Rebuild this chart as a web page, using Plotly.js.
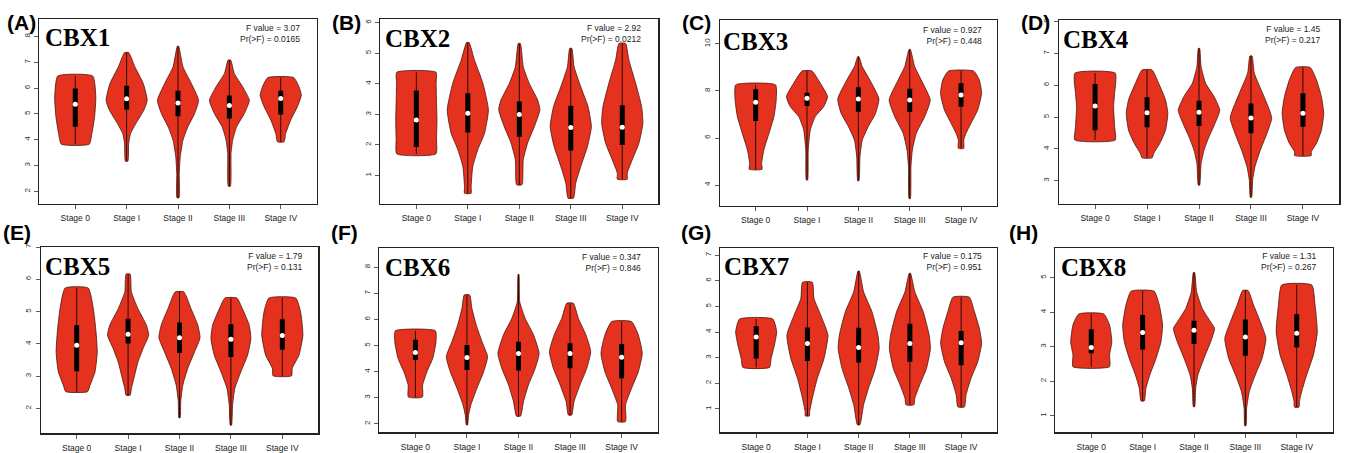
<!DOCTYPE html>
<html><head><meta charset="utf-8">
<script src="https://cdn.plot.ly/plotly-3.0.1.min.js"></script>
<style>html,body{margin:0;padding:0;background:#fff}#chart{width:1346px;height:453px}</style>
</head><body><div id="chart"></div>
<script>
const stages = ['Stage 0','Stage I','Stage II','Stage III','Stage IV'];
const genes = ['CBX1','CBX2','CBX3','CBX4','CBX5','CBX6','CBX7','CBX8'];
const panelLabels = ['(A)','(B)','(C)','(D)','(E)','(F)','(G)','(H)'];
const fValues = ['3.07','2.92','0.927','1.45','1.79','0.347','0.175','1.31'];
const pValues = ['0.0165','0.0212','0.448','0.217','0.131','0.846','0.951','0.267'];

// medians, quartiles (Stage 0..IV)
const cbx1Med=[5.38,5.59,5.43,5.33,5.60], cbx1Q1=[4.50,5.17,4.91,4.82,4.98], cbx1Q3=[5.99,6.09,5.90,5.72,5.90];
const cbx2Med=[2.82,3.04,3.00,2.57,2.58], cbx2Q1=[1.93,2.41,2.27,1.82,2.00], cbx2Q3=[3.78,3.69,3.42,3.28,3.30];
const cbx3Med=[7.52,7.69,7.66,7.62,7.83], cbx3Q1=[6.72,7.36,7.12,7.11,7.33], cbx3Q3=[8.07,7.93,8.16,8.10,8.33];
const cbx4Med=[5.35,5.14,5.15,4.97,5.12], cbx4Q1=[4.59,4.68,4.72,4.49,4.70], cbx4Q3=[6.04,5.62,5.51,5.43,5.75];
const cbx5Med=[3.96,4.30,4.19,4.14,4.26], cbx5Q1=[3.15,4.01,3.72,3.59,3.82], cbx5Q3=[4.58,4.78,4.66,4.61,4.76];
const cbx6Med=[4.74,4.54,4.70,4.70,4.55], cbx6Q1=[4.45,4.07,4.05,4.13,3.75], cbx6Q3=[5.22,5.02,5.15,5.09,5.06];
const cbx7Med=[3.81,3.55,3.40,3.55,3.58], cbx7Q1=[2.97,2.87,2.81,2.84,2.71], cbx7Q3=[4.23,4.18,4.17,4.32,4.04];
const cbx8Med=[2.98,3.41,3.48,3.28,3.39], cbx8Q1=[2.81,2.92,3.08,2.74,2.98], cbx8Q3=[3.51,3.92,3.75,3.79,3.94];

// violin outlines: expression levels (bottom to top) and relative density widths
const cbx1Y=[[3.83,4.24,4.89,5.66,6.47],[3.17,3.86,4.24,4.63,5.15,5.53,6.18,6.83,7.38],[1.75,2.69,3.34,3.98,4.50,5.02,5.53,6.18,6.83,7.63],[2.20,3.47,3.98,4.50,5.02,5.53,6.05,6.57,7.09],[3.92,4.24,4.76,5.28,5.73,6.05,6.41]];
const cbx1W=[[0.68,0.81,0.94,1.0,0.85],[0.06,0.10,0.19,0.45,0.84,1.0,0.81,0.40,0.10],[0.05,0.06,0.11,0.24,0.48,0.81,1.0,0.65,0.24,0.03],[0.05,0.08,0.16,0.35,0.73,0.97,0.65,0.24,0.06],[0.16,0.24,0.48,0.81,1.0,0.89,0.63]];
const cbx2Y=[[1.71,2.2,2.8,3.4,4.0,4.38],[0.42,0.64,1.29,1.84,2.38,3.15,4.02,4.78,5.35],[0.70,1.51,2.06,2.60,3.15,3.47,4.02,4.56,5.32],[0.26,0.75,1.29,1.95,2.60,3.25,3.91,4.56,5.16],[0.88,1.08,1.51,2.06,2.71,3.25,4.02,4.78,5.32]];
const cbx2W=[[0.95,0.98,1.0,0.98,0.96,0.95],[0.16,0.16,0.24,0.48,0.81,1.0,0.73,0.32,0.06],[0.13,0.19,0.40,0.73,1.0,0.89,0.48,0.19,0.05],[0.13,0.24,0.48,0.81,1.0,0.84,0.48,0.16,0.05],[0.24,0.24,0.48,0.81,1.0,0.94,0.65,0.32,0.16]];
const cbx3Y=[[4.67,4.92,5.49,6.20,6.91,7.62,8.26],[4.21,5.49,6.34,6.91,7.33,7.76,8.33,8.85],[4.18,5.21,5.91,6.48,7.05,7.67,8.47,9.04,9.46],[3.42,4.78,5.49,6.20,6.91,7.62,8.47,9.04,9.77],[5.56,5.91,6.20,6.62,7.19,7.90,8.47,8.85]];
const cbx3W=[[0.31,0.29,0.40,0.65,0.89,1.0,0.97],[0.03,0.06,0.16,0.40,0.81,1.0,0.65,0.24],[0.03,0.08,0.19,0.48,0.84,1.0,0.56,0.19,0.03],[0.03,0.06,0.13,0.32,0.73,1.0,0.56,0.24,0.03],[0.13,0.13,0.24,0.48,0.81,1.0,0.89,0.61]];
const cbx4Y=[[4.28,4.70,5.33,5.75,6.38],[3.72,3.86,4.17,4.59,5.12,5.54,6.06,6.48],[2.86,3.54,3.96,4.38,4.80,5.22,5.64,6.06,6.58,7.16],[2.48,3.02,3.44,3.96,4.49,4.96,5.22,5.75,6.38,6.92],[3.79,3.91,4.17,4.59,5.12,5.64,6.17,6.56]];
const cbx4W=[[0.97,0.94,0.89,0.94,0.97],[0.24,0.32,0.61,0.89,1.0,0.89,0.56,0.24],[0.03,0.10,0.24,0.48,0.77,1.0,0.73,0.32,0.10,0.03],[0.03,0.08,0.19,0.45,0.77,1.0,0.89,0.56,0.16,0.05],[0.40,0.40,0.65,0.89,1.0,0.89,0.65,0.35]];
const cbx5Y=[[2.52,2.72,3.13,3.75,4.37,5.09,5.73],[2.41,2.62,3.03,3.44,3.86,4.27,4.58,5.09,5.61,6.16],[1.71,2.21,2.72,3.24,3.75,4.19,4.58,5.09,5.61],[1.48,2.10,2.62,3.13,3.65,4.16,4.58,5.09,5.42],[3.01,3.24,3.65,4.27,4.99,5.42]];
const cbx5W=[[0.53,0.65,0.89,1.0,0.94,0.81,0.56],[0.10,0.16,0.32,0.48,0.73,1.0,0.89,0.48,0.16,0.10],[0.03,0.06,0.16,0.40,0.73,1.0,0.89,0.56,0.21],[0.03,0.08,0.19,0.48,0.81,0.97,0.89,0.56,0.29],[0.45,0.48,0.81,1.0,0.89,0.65]];
const cbx6Y=[[3.03,3.49,4.00,4.51,5.15,5.57],[1.96,2.34,2.73,3.36,4.00,4.58,5.15,5.79,6.43,6.94],[2.30,2.85,3.49,4.13,4.70,5.41,6.05,6.68,7.73],[2.34,2.85,3.49,4.13,4.77,5.41,6.05,6.62],[2.09,2.73,3.36,4.00,4.70,5.41,5.92]];
const cbx6W=[[0.34,0.35,0.56,0.84,1.0,0.97],[0.03,0.08,0.19,0.48,0.81,1.0,0.73,0.45,0.24,0.13],[0.10,0.24,0.48,0.81,1.0,0.73,0.32,0.06,0.02],[0.08,0.19,0.48,0.81,1.0,0.77,0.40,0.16],[0.19,0.19,0.48,0.81,1.0,0.81,0.48]];
const cbx7Y=[[2.62,2.97,3.49,4.01,4.51],[0.73,0.90,1.42,2.19,2.97,3.88,4.66,5.31,5.94],[0.38,1.16,1.81,2.58,3.36,3.88,4.79,5.57,6.38],[1.16,1.42,1.94,2.58,3.36,3.88,4.79,5.57,6.29],[1.08,1.55,2.19,2.84,3.56,4.14,4.79,5.36]];
const cbx7W=[[0.65,0.73,0.89,1.0,0.81],[0.10,0.11,0.24,0.48,0.81,1.0,0.65,0.32,0.24],[0.06,0.24,0.48,0.81,1.0,0.94,0.65,0.24,0.03],[0.19,0.24,0.48,0.81,1.0,0.94,0.65,0.24,0.03],[0.16,0.24,0.48,0.81,1.0,0.89,0.65,0.40]];
const cbx8Y=[[2.42,2.76,3.14,3.63,3.95],[1.43,1.79,2.18,2.66,3.14,3.63,4.21,4.61],[1.26,1.79,2.18,2.66,3.14,3.53,3.72,4.11,4.59,5.15],[0.71,1.21,1.70,2.18,2.66,3.24,3.72,4.21,4.63],[1.25,1.41,1.70,2.18,2.76,3.43,4.21,4.79]];
const cbx8W=[[0.89,0.89,1.0,0.89,0.61],[0.08,0.16,0.35,0.65,0.89,0.97,0.81,0.56],[0.03,0.08,0.19,0.48,0.81,1.0,0.81,0.40,0.13,0.03],[0.03,0.06,0.19,0.48,0.81,1.0,0.73,0.40,0.13],[0.11,0.13,0.24,0.48,0.81,1.0,0.89,0.73]];

const meds=[cbx1Med,cbx2Med,cbx3Med,cbx4Med,cbx5Med,cbx6Med,cbx7Med,cbx8Med];
const q1s=[cbx1Q1,cbx2Q1,cbx3Q1,cbx4Q1,cbx5Q1,cbx6Q1,cbx7Q1,cbx8Q1];
const q3s=[cbx1Q3,cbx2Q3,cbx3Q3,cbx4Q3,cbx5Q3,cbx6Q3,cbx7Q3,cbx8Q3];
const profY=[cbx1Y,cbx2Y,cbx3Y,cbx4Y,cbx5Y,cbx6Y,cbx7Y,cbx8Y];
const profW=[cbx1W,cbx2W,cbx3W,cbx4W,cbx5W,cbx6W,cbx7W,cbx8W];

// layout geometry (pixels)
const W=1346,H=453;
const geom=[
 {l:39.3,r:316.7,t:19.3,b:204,yr:[1.51,8.67],dt:1, lab:[21,22], gene:[43,38], fv:[302,33]},
 {l:380.3,r:658.3,t:19.3,b:204,yr:[0.07,6.11],dt:1, lab:[347,22], gene:[383,38.5], fv:[643,33]},
 {l:719.7,r:997,t:20,b:205.7,yr:[3.12,11.02],dt:2, lab:[696,22], gene:[721,41], fv:[984,36]},
 {l:1058.7,r:1339.3,t:20,b:204,yr:[2.27,8.05],dt:1, lab:[1035,22], gene:[1061,39], fv:[1323,35]},
 {l:40.7,r:318.3,t:246.7,b:433.3,yr:[1.23,7.01],dt:1, lab:[17,233], gene:[43,266.5], fv:[305,261.5]},
 {l:379.3,r:657.7,t:247.7,b:432.3,yr:[1.68,8.75],dt:1, lab:[345,233], gene:[383,267.5], fv:[643,262.5]},
 {l:720.3,r:997,t:247.7,b:432.3,yr:[0.09,7.29],dt:1, lab:[696,233], gene:[722,266.5], fv:[984,261.5]},
 {l:1055.3,r:1332.7,t:247.7,b:432.3,yr:[0.52,5.87],dt:1, lab:[1023,233], gene:[1059,267.5], fv:[1319,261]}
];
const HW=0.40, RED='#e5321f', EDGE='#4a140c';
const SANS='"Liberation Sans", Arial, sans-serif', SERIF='"Liberation Serif", "Times New Roman", serif';

const traces=[];
const layout={width:W,height:H,margin:{l:0,r:0,t:0,b:0},showlegend:false,
  paper_bgcolor:'#fff',plot_bgcolor:'#fff',annotations:[]};

genes.forEach((g,i)=>{
  const n=i===0?'':String(i+1);
  const xa='x'+n, ya='y'+n, G=geom[i];
  const lineX=[], lineY=[], boxX=[], boxY=[];
  for(let s=0;s<5;s++){
    const ys=profY[i][s], ws=profW[i][s];
    const px=[],py=[];
    for(let k=0;k<ys.length;k++){px.push(s+ws[k]*HW);py.push(ys[k]);}
    for(let k=ys.length-1;k>=0;k--){px.push(s-ws[k]*HW);py.push(ys[k]);}
    px.push(px[0]);py.push(py[0]);
    traces.push({type:'scatter',mode:'lines',x:px,y:py,xaxis:xa,yaxis:ya,fill:'toself',
      fillcolor:RED,line:{color:EDGE,width:0.8,shape:'spline',smoothing:0.5},hoverinfo:'skip'});
    lineX.push(s,s,null); lineY.push(ys[0],ys[ys.length-1],null);
    boxX.push(s,s,null); boxY.push(q1s[i][s],q3s[i][s],null);
  }
  traces.push({type:'scatter',mode:'lines',x:lineX,y:lineY,xaxis:xa,yaxis:ya,line:{color:'#2a0a05',width:1},hoverinfo:'skip'});
  traces.push({type:'scatter',mode:'lines',x:boxX,y:boxY,xaxis:xa,yaxis:ya,line:{color:'#000',width:5},hoverinfo:'skip'});
  traces.push({type:'scatter',mode:'markers',x:[0,1,2,3,4],y:meds[i],xaxis:xa,yaxis:ya,
    marker:{color:'#fff',size:5,line:{width:0}},hoverinfo:'skip'});

  layout['xaxis'+n]={domain:[G.l/W,G.r/W],range:[-0.7,4.7],anchor:ya,tickmode:'array',tickvals:[0,1,2,3,4],ticktext:stages,
    ticks:'outside',ticklen:4,tickcolor:'#333',tickwidth:0.8,showline:true,mirror:true,linecolor:'#222',linewidth:1.2,
    showgrid:false,zeroline:false,ticklabelstandoff:2,tickfont:{family:SANS,size:8.5,color:'#222'},fixedrange:true};
  layout['yaxis'+n]={domain:[1-G.b/H,1-G.t/H],range:G.yr,anchor:xa,tick0:0,dtick:G.dt,
    ticks:'outside',ticklen:4,tickcolor:'#333',tickwidth:0.8,showline:true,mirror:true,linecolor:'#222',linewidth:1.2,
    showgrid:false,zeroline:false,tickangle:-90,ticklabelstandoff:1,tickfont:{family:SANS,size:8,color:'#333'},fixedrange:true};

  layout.annotations.push({xref:'paper',yref:'paper',x:G.lab[0]/W,y:1-G.lab[1]/H,xanchor:'center',yanchor:'middle',
    text:'<b>'+panelLabels[i]+'</b>',showarrow:false,font:{family:SANS,size:21,color:'#000'}});
  layout.annotations.push({xref:'paper',yref:'paper',x:G.gene[0]/W,y:1-G.gene[1]/H,xanchor:'left',yanchor:'middle',
    text:'<b>'+g+'</b>',showarrow:false,font:{family:SERIF,size:25,color:'#000'}});
  layout.annotations.push({xref:'paper',yref:'paper',x:G.fv[0]/W,y:1-G.fv[1]/H,xanchor:'right',yanchor:'middle',align:'right',
    text:'F value = '+fValues[i]+'<br>Pr(&gt;F) = '+pValues[i],showarrow:false,font:{family:SANS,size:8.5,color:'#222'}});
});

Plotly.newPlot('chart',traces,layout,{staticPlot:true,displayModeBar:false});
</script></body></html>
